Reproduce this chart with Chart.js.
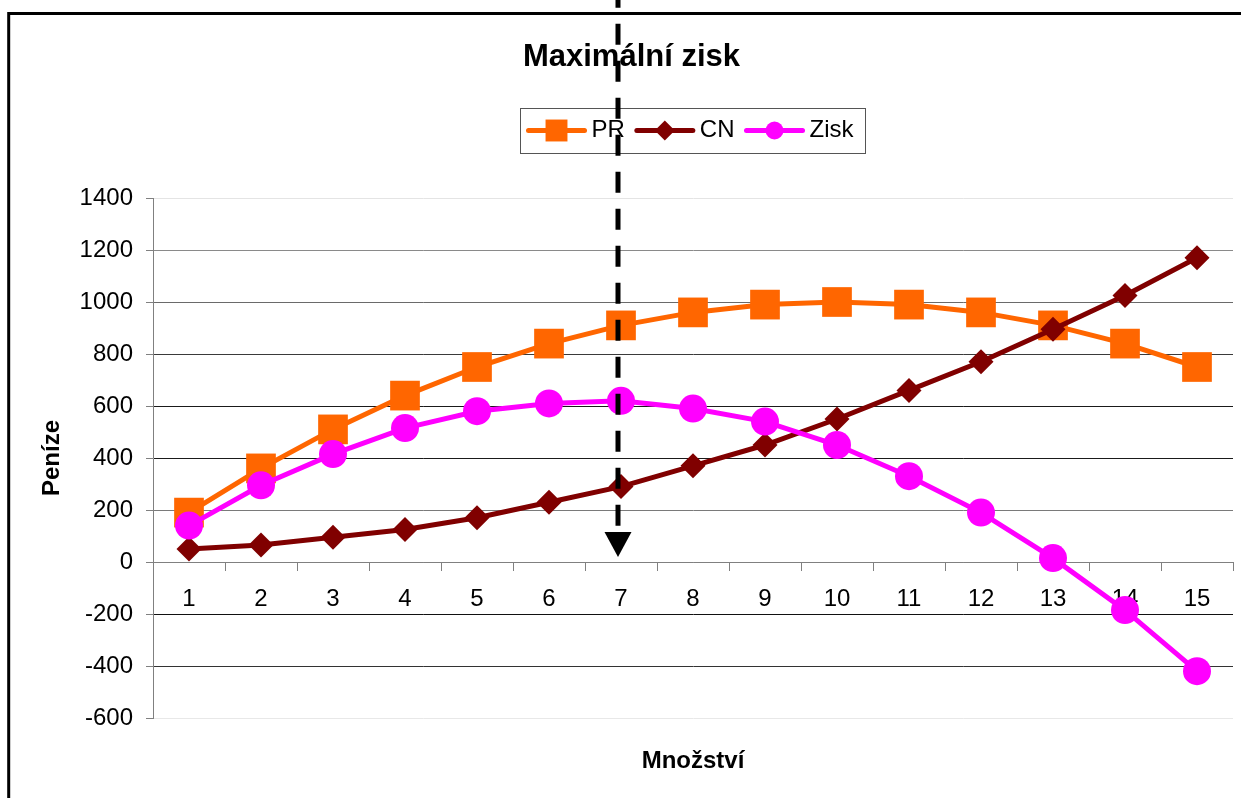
<!DOCTYPE html>
<html>
<head>
<meta charset="utf-8">
<script src="https://cdn.jsdelivr.net/npm/chart.js@4.4.1/dist/chart.umd.min.js"></script>
<style>
  html, body { margin: 0; padding: 0; background: #fff; }
  #wrap { width: 1241px; height: 798px; }
</style>
</head>
<body>
<div id="wrap"><canvas id="chart"></canvas></div>
<script>
var quantities = ['1', '2', '3', '4', '5', '6', '7', '8', '9', '10', '11', '12', '13', '14', '15'];
var prValues = [190, 360, 510, 640, 750, 840, 910, 960, 990, 1000, 990, 960, 910, 840, 750];
var cnValues = [50, 65, 95, 125, 170, 230, 290, 370, 450, 550, 660, 770, 895, 1025, 1170];
var ziskValues = [140, 295, 415, 515, 580, 610, 620, 590, 540, 450, 330, 190, 15, -185, -420];
var yMin = -600, yMax = 1400, yStep = 200;
var bestQuantity = '7';

var FONT = '"Liberation Sans", Arial, Helvetica, sans-serif';
Chart.defaults.font.family = FONT;
Chart.defaults.color = '#000';

// gridline shades, the original has uneven grey/black lines
var gridShades = { '1400': '#e4e4e4', '1200': '#8a8a8a', '1000': '#6a6a6a', '800': '#3a3a3a',
    '600': '#1a1a1a', '400': '#1a1a1a', '200': '#7a7a7a', '0': '#8a8a8a',
    '-200': '#111111', '-400': '#333333', '-600': '#e8e8e8' };

var legendRadius = { rect: 15.5, rectRot: 10, circle: 9 };

// black frame round the whole chart
var frame = {
    id: 'frame',
    beforeDraw: function (chart) {
        var ctx = chart.ctx;
        ctx.save();
        ctx.fillStyle = '#fff';
        ctx.fillRect(0, 0, chart.width, chart.height);
        ctx.strokeStyle = '#000';
        ctx.lineWidth = 3;
        ctx.strokeRect(8.7, 13.5, chart.width + 20, chart.height + 20);
        ctx.restore();
    }
};

// legend with line + marker samples in a box
var boxLegend = {
    id: 'boxLegend',
    afterDraw: function (chart) {
        var ctx = chart.ctx, area = chart.chartArea;
        var cy = 130.5, lineLen = 60, textGap = 5, itemGap = 10;
        ctx.save();
        ctx.font = '24px ' + FONT;
        var items = chart.data.datasets.map(function (ds) {
            return { ds: ds, w: lineLen + textGap + ctx.measureText(ds.label).width };
        });
        var total = items.reduce(function (s, it) { return s + it.w; }, 0) + itemGap * (items.length - 1);
        var x = (area.left + area.right) / 2 - 3 - total / 2;
        ctx.strokeStyle = '#555';
        ctx.lineWidth = 1;
        ctx.strokeRect(Math.round(x - 7) + 0.5, Math.round(cy - 22.5) + 0.5, Math.round(total + 18), 45);
        items.forEach(function (it) {
            var ds = it.ds;
            ctx.strokeStyle = ds.borderColor;
            ctx.lineWidth = 5;
            ctx.lineCap = 'round';
            ctx.beginPath();
            ctx.moveTo(x + 2, cy);
            ctx.lineTo(x + lineLen - 2, cy);
            ctx.stroke();
            ctx.fillStyle = ds.pointBackgroundColor;
            Chart.helpers.drawPoint(ctx, {
                pointStyle: ds.pointStyle, radius: legendRadius[ds.pointStyle],
                rotation: 0, borderWidth: 0
            }, x + lineLen / 2, cy);
            ctx.fillStyle = '#000';
            ctx.textAlign = 'left';
            ctx.textBaseline = 'middle';
            ctx.fillText(ds.label, x + lineLen + textGap, cy);
            x += it.w + itemGap;
        });
        ctx.restore();
    }
};

// dashed arrow marking the quantity with the biggest profit
var maxArrow = {
    id: 'maxArrow',
    afterDraw: function (chart) {
        var ctx = chart.ctx;
        var xs = chart.scales.x, ys = chart.scales.y;
        var x = xs.getPixelForValue(quantities.indexOf(bestQuantity)) - 3;
        var tip = ys.getPixelForValue(0) - 5;
        var headH = 25, headW = 27;
        ctx.save();
        ctx.strokeStyle = '#000';
        ctx.lineWidth = 5;
        ctx.setLineDash([21, 16]);
        ctx.lineDashOffset = 13.3;
        ctx.beginPath();
        ctx.moveTo(x, 0);
        ctx.lineTo(x, tip - headH);
        ctx.stroke();
        ctx.setLineDash([]);
        ctx.fillStyle = '#000';
        ctx.beginPath();
        ctx.moveTo(x - headW / 2, tip - headH);
        ctx.lineTo(x + headW / 2, tip - headH);
        ctx.lineTo(x, tip);
        ctx.closePath();
        ctx.fill();
        ctx.restore();
    }
};

function series(label, data, color, style, radius, order) {
    return {
        label: label,
        data: data,
        borderColor: color,
        backgroundColor: color,
        borderWidth: 5,
        tension: 0,
        pointStyle: style,
        pointRadius: radius,
        pointHoverRadius: radius,
        pointBackgroundColor: color,
        pointBorderColor: color,
        pointBorderWidth: 0,
        order: order
    };
}

var ctx = document.getElementById('chart').getContext('2d');
new Chart(ctx, {
    type: 'line',
    data: {
        labels: quantities,
        datasets: [
            series('PR', prValues, '#FF6600', 'rect', 21, 2),
            series('CN', cnValues, '#800000', 'rectRot', 12.5, 1),
            series('Zisk', ziskValues, '#FF00FF', 'circle', 14, 0)
        ]
    },
    options: {
        responsive: true,
        maintainAspectRatio: false,
        animation: false,
        layout: { autoPadding: false, padding: { left: 30, right: 8, top: 0, bottom: 0 } },
        plugins: {
            legend: { display: false },
            tooltip: { enabled: false },
            title: {
                display: true,
                text: 'Maximální zisk',
                color: '#000',
                font: { size: 31, weight: 'bold' },
                padding: { top: 39, bottom: 121.8 }
            }
        },
        scales: {
            x: {
                type: 'category',
                position: { y: 0 },
                offset: true,
                grid: { offset: true, drawOnChartArea: false, drawTicks: true, tickLength: 8, color: '#808080' },
                border: { color: '#808080', width: 1 },
                ticks: { color: '#000', font: { size: 24 }, padding: 15, maxRotation: 0, autoSkip: false },
                afterFit: function (scale) { scale.paddingLeft = 0; scale.paddingRight = 0; }
            },
            x2: {
                type: 'category',
                position: 'bottom',
                grid: { display: false, drawTicks: false, tickLength: 0 },
                border: { display: false },
                ticks: { display: false },
                title: {
                    display: true,
                    text: 'Množství',
                    color: '#000',
                    font: { size: 24, weight: 'bold' },
                    padding: { top: 30, bottom: 22 }
                },
                afterFit: function (scale) { scale.height = 80; scale.paddingLeft = 0; scale.paddingRight = 0; }
            },
            y: {
                min: yMin,
                max: yMax,
                ticks: {
                    stepSize: yStep,
                    color: '#000',
                    font: { size: 24 },
                    padding: 13,
                    callback: function (v) { return String(v); }
                },
                grid: {
                    color: function (c) { return gridShades[String(c.tick.value)] || '#808080'; },
                    tickColor: '#808080',
                    tickLength: 7,
                    drawTicks: true,
                    lineWidth: 1
                },
                border: { color: '#808080', width: 1 },
                title: {
                    display: true,
                    text: 'Peníze',
                    color: '#000',
                    font: { size: 24, weight: 'bold' },
                    padding: { top: 8, bottom: 0 }
                },
                afterFit: function (scale) { scale.width = 123; }
            }
        }
    },
    plugins: [frame, boxLegend, maxArrow]
});
</script>
</body>
</html>
